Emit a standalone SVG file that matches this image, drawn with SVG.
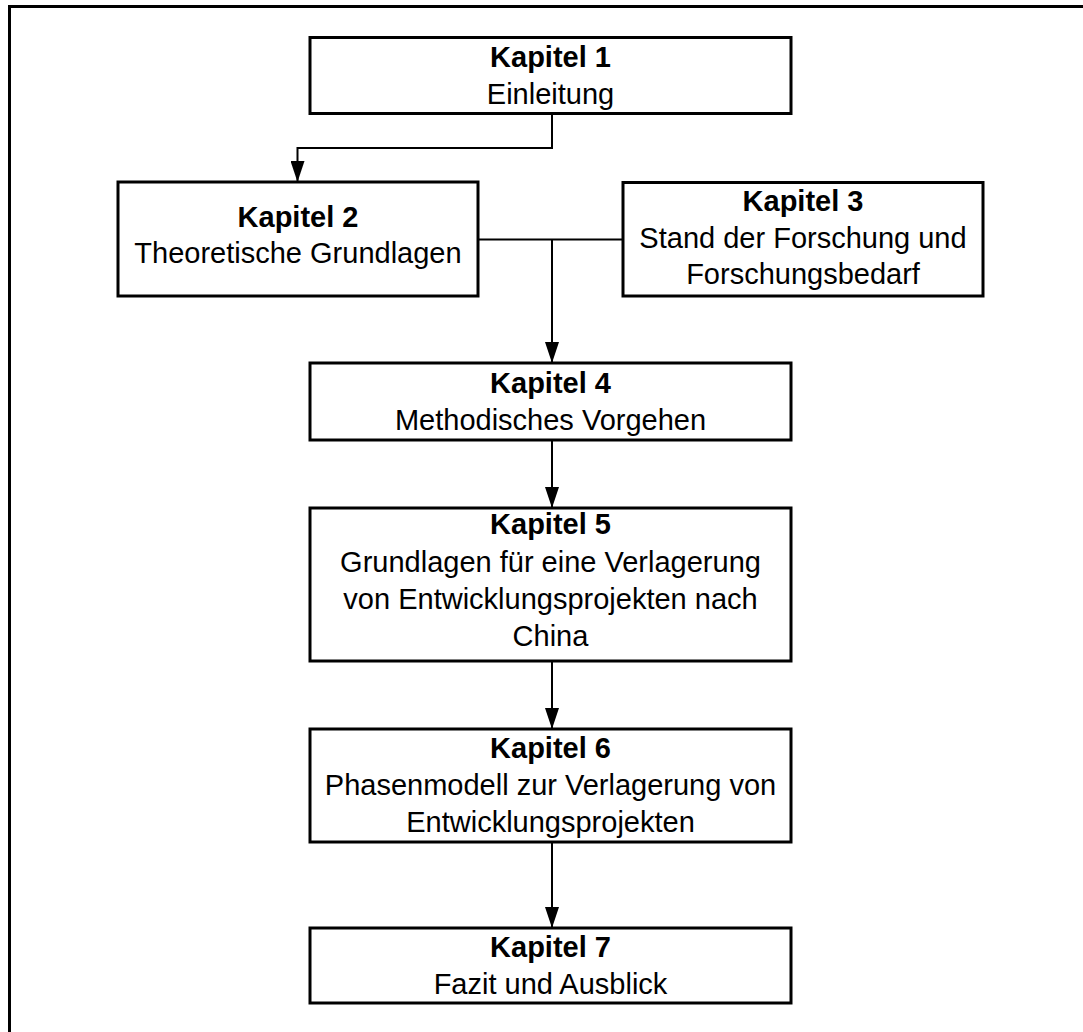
<svg xmlns="http://www.w3.org/2000/svg" width="1083" height="1032" viewBox="0 0 1083 1032">
  <style>
    .box { fill: #ffffff; stroke: #000000; stroke-width: 3; }
    .frame { fill: #ffffff; stroke: #000000; stroke-width: 3; }
    .edge { fill: none; stroke: #000000; stroke-width: 2; }
    .arrow { marker-end: url(#arrow); }
    text { font-family: "Liberation Sans", Arial, sans-serif; font-size: 29px; fill: #000000; text-anchor: middle; }
    .title { font-weight: bold; }
  </style>
  <defs>
    <marker id="arrow" viewBox="0 0 21 14" refX="21" refY="7" markerWidth="21" markerHeight="14" markerUnits="userSpaceOnUse" orient="auto">
      <path d="M0,0 L21,7 L0,14 Z" fill="#000000"/>
    </marker>
  </defs>

  <!-- outer frame -->
  <rect class="frame" x="9.5" y="6.5" width="1100" height="1100"/>

  <!-- connectors -->
  <g id="connectors">
    <path class="edge arrow" d="M552,113.5 V148 H297.5 V182"/>
    <path class="edge" d="M478,239.5 H623"/>
    <path class="edge arrow" d="M552,239.5 V363"/>
    <path class="edge arrow" d="M552,440 V508"/>
    <path class="edge arrow" d="M552,661 V729"/>
    <path class="edge arrow" d="M552,842 V928"/>
  </g>

  <g id="kapitel1">
    <rect class="box" x="310" y="37.5" width="481" height="76"/>
    <text x="550.5" y="67" class="title">Kapitel 1</text>
    <text x="550.5" y="104">Einleitung</text>
  </g>

  <g id="kapitel2">
    <rect class="box" x="118" y="182" width="360" height="114"/>
    <text x="298" y="227" class="title">Kapitel 2</text>
    <text x="298" y="263">Theoretische Grundlagen</text>
  </g>

  <g id="kapitel3">
    <rect class="box" x="623" y="182.5" width="360" height="113.5"/>
    <text x="803" y="211" class="title">Kapitel 3</text>
    <text x="803" y="248">Stand der Forschung und</text>
    <text x="803" y="284">Forschungsbedarf</text>
  </g>

  <g id="kapitel4">
    <rect class="box" x="310" y="363" width="481" height="77"/>
    <text x="550.5" y="393" class="title">Kapitel 4</text>
    <text x="550.5" y="430">Methodisches Vorgehen</text>
  </g>

  <g id="kapitel5">
    <rect class="box" x="310" y="508" width="481" height="153"/>
    <text x="550.5" y="534" class="title">Kapitel 5</text>
    <text x="550.5" y="572">Grundlagen für eine Verlagerung</text>
    <text x="550.5" y="609">von Entwicklungsprojekten nach</text>
    <text x="550.5" y="646">China</text>
  </g>

  <g id="kapitel6">
    <rect class="box" x="310" y="729" width="481" height="113"/>
    <text x="550.5" y="758" class="title">Kapitel 6</text>
    <text x="550.5" y="795">Phasenmodell zur Verlagerung von</text>
    <text x="550.5" y="832">Entwicklungsprojekten</text>
  </g>

  <g id="kapitel7">
    <rect class="box" x="310" y="928" width="481" height="75"/>
    <text x="550.5" y="957" class="title">Kapitel 7</text>
    <text x="550.5" y="994">Fazit und Ausblick</text>
  </g>
</svg>
